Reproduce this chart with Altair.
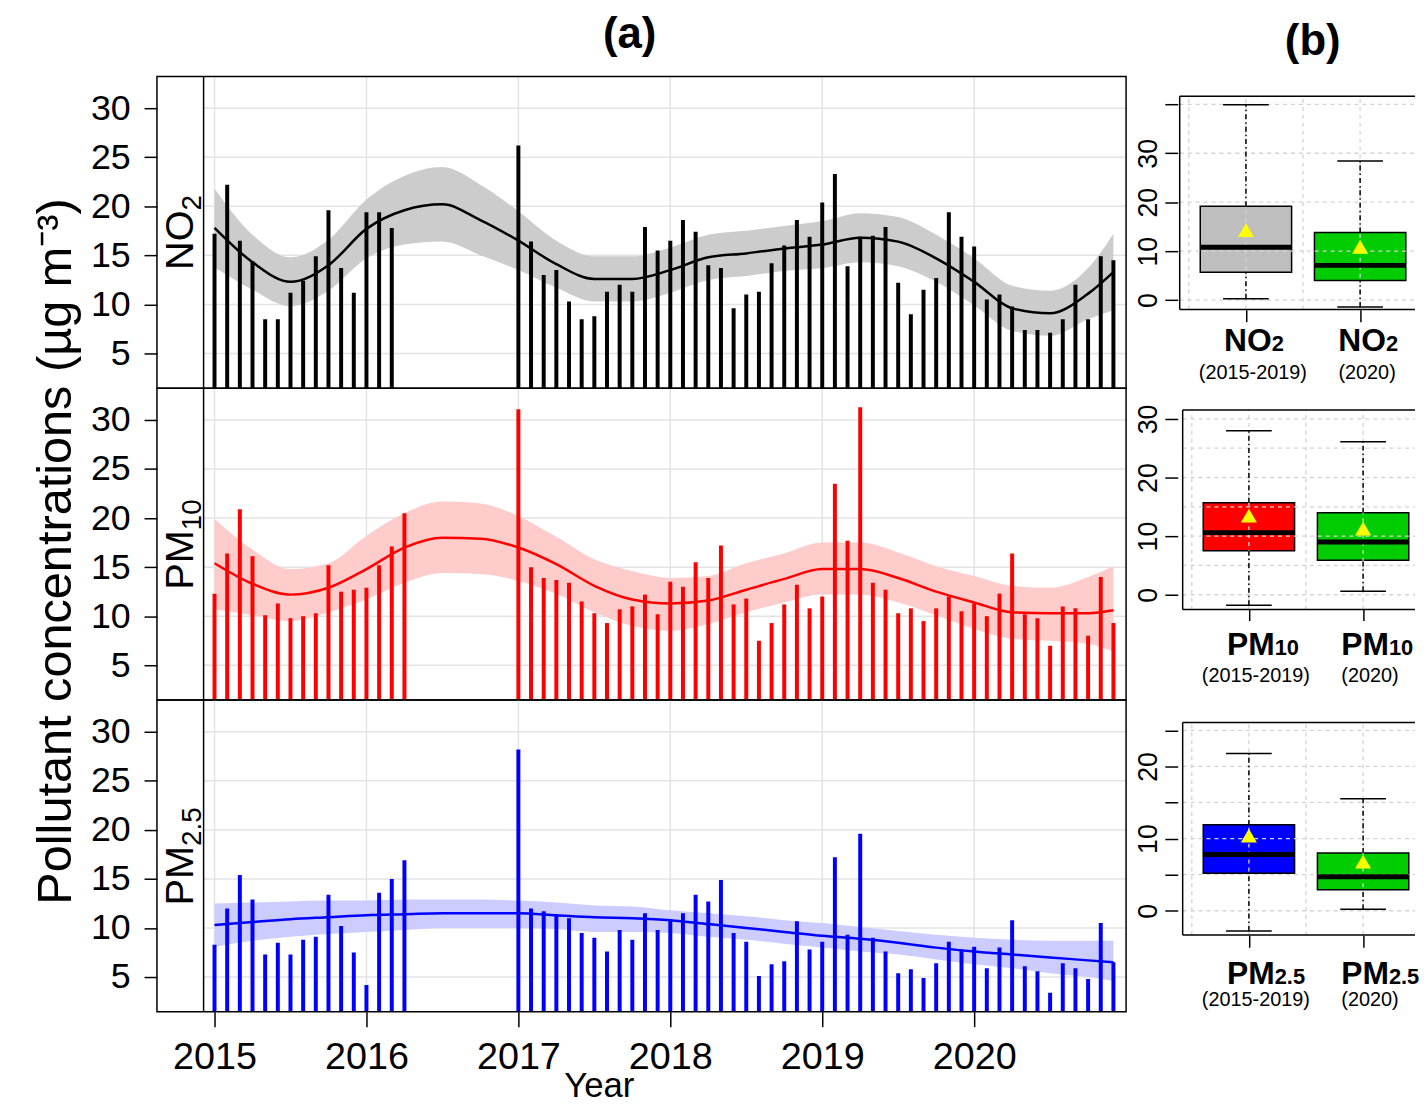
import altair as alt
import pandas as pd

FONT = "Liberation Sans"

# ---------------- panel (a): monthly means (µg m-3) ----------------
no2_2015_16 = [17.2, 22.2, 16.5, 14.4, 8.5, 8.5, 11.2, 12.4, 14.9, 19.6, 13.7, 11.2, 19.4, 19.4, 17.8]
no2_2017 = [26.2, 16.4, 13.0, 13.5, 10.3, 8.5, 8.8, 11.3, 12.0, 11.3, 17.9, 15.5]
no2_2018 = [16.5, 18.6, 17.4, 14.0, 13.7, 9.6, 11.0, 11.3, 14.2, 16.0, 18.6, 16.9]
no2_2019 = [20.4, 23.3, 13.9, 16.9, 17.0, 17.9, 12.2, 9.0, 11.5, 12.7, 19.4, 16.9]
no2_2020 = [15.9, 10.5, 11.0, 9.8, 7.4, 7.4, 7.1, 8.5, 12.0, 8.5, 14.9, 14.5]

pm10_2015_16 = [12.3, 16.4, 20.9, 16.1, 10.1, 11.3, 9.8, 10.0, 10.3, 15.2, 12.5, 12.7, 12.9, 15.2, 17.1, 20.5]
pm10_2017 = [31.1, 15.0, 13.9, 13.7, 13.4, 11.5, 10.3, 9.3, 10.7, 11.0, 12.2, 10.2]
pm10_2018 = [13.5, 13.0, 15.5, 13.9, 17.2, 11.2, 11.8, 7.5, 9.3, 11.2, 13.2, 10.8]
pm10_2019 = [12.0, 23.5, 17.7, 31.3, 13.4, 12.7, 10.3, 10.8, 9.5, 10.8, 12.0, 10.5]
pm10_2020 = [11.3, 10.0, 12.3, 16.4, 10.2, 9.8, 7.0, 11.0, 10.8, 8.0, 14.0, 9.3]

pm25_2015_16 = [8.3, 12.0, 15.4, 12.9, 7.3, 8.5, 7.3, 8.8, 9.1, 13.4, 10.2, 7.5, 4.2, 13.6, 15.0, 16.9]
pm25_2017 = [28.2, 12.0, 11.7, 11.3, 11.0, 9.5, 9.0, 7.6, 9.8, 8.8, 11.5, 9.8]
pm25_2018 = [10.8, 11.5, 13.4, 12.7, 14.9, 9.5, 8.6, 5.1, 6.3, 6.6, 10.7, 7.8]
pm25_2019 = [8.6, 17.2, 9.3, 19.6, 9.0, 7.6, 5.4, 5.8, 4.9, 6.4, 8.6, 7.8]
pm25_2020 = [8.1, 5.9, 8.0, 10.8, 6.1, 5.6, 3.4, 6.4, 5.9, 4.8, 10.5, 6.5]

# smooth fit with confidence band, read at months since Jan 2015
fit_months = [0, 3, 6, 9, 12, 15, 18, 21, 24, 27, 30, 33, 36, 39, 42, 45, 48, 51, 54, 57, 60, 63, 66, 69, 71]
no2_fit = [17.8, 14.3, 12.3, 14.0, 17.7, 19.6, 20.2, 18.6, 16.5, 14.1, 12.6, 12.6, 13.5, 14.8, 15.2, 15.7, 16.1, 16.8, 16.4, 14.7, 12.3, 9.6, 9.1, 11.1, 13.3]
no2_lo = [13.8, 11.5, 9.8, 11.4, 14.7, 16.1, 16.4, 15.0, 13.5, 11.7, 10.3, 10.3, 11.2, 12.5, 12.9, 13.4, 13.7, 14.3, 13.9, 12.3, 9.9, 7.3, 6.8, 8.5, 9.4]
no2_hi = [21.8, 17.1, 14.8, 16.6, 20.7, 23.1, 24.0, 22.2, 19.5, 16.5, 14.9, 14.9, 15.8, 17.1, 17.5, 18.0, 18.5, 19.3, 18.9, 17.1, 14.7, 11.9, 11.4, 13.7, 17.2]

pm10_fit = [15.4, 13.3, 12.2, 12.9, 14.8, 17.0, 18.0, 17.9, 17.0, 15.3, 13.1, 11.7, 11.3, 11.6, 12.7, 13.8, 14.8, 14.8, 13.9, 12.5, 11.4, 10.4, 10.3, 10.3, 10.6]
pm10_lo = [10.7, 10.1, 9.5, 10.4, 11.7, 13.4, 14.4, 14.3, 13.6, 12.3, 10.4, 9.0, 8.5, 9.2, 10.4, 11.4, 12.2, 12.2, 11.4, 10.1, 8.7, 7.7, 7.5, 7.2, 6.4]
pm10_hi = [19.9, 16.8, 14.8, 15.4, 18.2, 20.5, 21.7, 21.5, 20.2, 18.1, 15.8, 14.6, 13.9, 14.1, 15.4, 16.4, 17.5, 17.5, 16.5, 15.1, 14.1, 13.1, 12.9, 14.0, 15.1]

pm25_fit = [10.3, 10.6, 10.9, 11.1, 11.3, 11.4, 11.5, 11.5, 11.5, 11.3, 11.1, 11.0, 10.8, 10.4, 10.0, 9.6, 9.2, 8.9, 8.5, 8.0, 7.6, 7.3, 7.0, 6.7, 6.5]
pm25_lo = [8.1, 8.7, 9.1, 9.4, 9.6, 9.8, 10.0, 10.0, 10.0, 9.9, 9.6, 9.6, 9.5, 9.1, 8.8, 8.4, 8.0, 7.6, 7.3, 6.8, 6.3, 5.9, 5.4, 5.0, 4.6]
pm25_hi = [12.5, 12.6, 12.7, 12.8, 12.8, 12.9, 12.9, 12.9, 12.8, 12.6, 12.3, 12.2, 11.8, 11.5, 11.2, 10.8, 10.5, 10.1, 9.7, 9.3, 9.0, 8.8, 8.7, 8.7, 8.7]

year_ticks = [2015, 2016, 2017, 2018, 2019, 2020]
conc_ticks = [5, 10, 15, 20, 25, 30]

# ---------------- panel (b): box-plot statistics ----------------
box_pos = [1, 2]
box_period = ["(2015-2019)", "(2020)"]
no2_box_lo = [0.3, -1.4]
no2_box_q1 = [5.7, 4.0]
no2_box_med = [10.8, 7.1]
no2_box_q3 = [19.2, 13.8]
no2_box_hi = [39.9, 28.4]
no2_box_mean = [14.3, 10.9]
pm10_box_lo = [-1.8, 0.6]
pm10_box_q1 = [7.5, 5.9]
pm10_box_med = [10.6, 9.0]
pm10_box_q3 = [15.7, 14.0]
pm10_box_hi = [28.0, 26.1]
pm10_box_mean = [13.5, 11.3]
pm25_box_lo = [-2.8, 0.2]
pm25_box_q1 = [5.2, 2.9]
pm25_box_med = [7.8, 4.7]
pm25_box_q3 = [11.9, 8.0]
pm25_box_hi = [21.8, 15.5]
pm25_box_mean = [10.4, 6.8]

# ---------------- layout constants ----------------
A_W, A_H = 976, 314
B_W = 237
X_MIN, X_MAX = 2014.621, 2021.0
STRIP_X = 2014.928
STRIP_TXT_X = 2014.858
Y_MIN, Y_MAX = 1.46, 33.24
XS = alt.Scale(domain=[X_MIN, X_MAX], nice=False, zero=False)
YS = alt.Scale(domain=[Y_MIN, Y_MAX], nice=False, zero=False)
ONE = pd.DataFrame({"k": [0]})
GRID = "#e3e3e3"


def month_x(start_year, n):
    return [start_year + i / 12.0 for i in range(n)]


def bars_df(early, y17, y18, y19, y20):
    vals = early + y17 + y18 + y19 + y20
    xs = month_x(2015, len(early)) + month_x(2017, 48)
    return pd.DataFrame({"x": xs, "value": vals})


def fit_df(fit, lo, hi):
    return pd.DataFrame({"x": [2015 + m / 12.0 for m in fit_months], "fit": fit, "lo": lo, "hi": hi})


def y_axis_a(title):
    kw = dict(values=conc_ticks, tickSize=13, labelPadding=14, labelFontSize=36, domain=False,
              grid=False, tickWidth=1.5, tickColor="black", labelColor="black", labelFont=FONT,
              labelOverlap=False, labelFlush=False)
    if title:
        return alt.Axis(title=title, titleX=-87, titleY=164, titleAngle=270, titleBaseline="alphabetic",
                        titleAlign="center", titleFontSize=49, titleFontWeight="normal", titleFont=FONT,
                        titleColor="black", **kw)
    return alt.Axis(title="", **kw)


def x_axis_a(show):
    if not show:
        return None
    return alt.Axis(values=year_ticks, format="d", tickSize=15, labelPadding=12, labelFontSize=38,
                    domain=False, grid=False, tickWidth=1.5, tickColor="black", labelColor="black",
                    labelFont=FONT, labelFlush=False, labelOverlap=False, title="Year", titleX=445,
                    titleY=85, titleBaseline="alphabetic", titleFontSize=35, titleFontWeight="normal",
                    titleFont=FONT, titleColor="black")


def a_panel(bars, fit, color, band, main, sub, shift, show_x, ytitle, head=None):
    xa = x_axis_a(show_x)
    ya = y_axis_a(ytitle)
    vgrid = alt.Chart(pd.DataFrame({"g": year_ticks})).mark_rule(color=GRID, strokeWidth=1.5).encode(
        x=alt.X("g:Q", scale=XS, axis=xa))
    hgrid = alt.Chart(pd.DataFrame({"g": conc_ticks})).mark_rule(color=GRID, strokeWidth=1.5).encode(
        x=alt.XDatum(STRIP_X, scale=XS, axis=xa), x2=alt.X2Datum(X_MAX),
        y=alt.Y("g:Q", scale=YS, axis=ya))
    area = alt.Chart(fit).mark_area(color=band, interpolate="monotone").encode(
        x=alt.X("x:Q", scale=XS, axis=xa), y=alt.Y("lo:Q", scale=YS, axis=ya), y2="hi:Q")
    rules = alt.Chart(bars).mark_rule(color=color, strokeWidth=4, clip=True).encode(
        x=alt.X("x:Q", scale=XS, axis=xa),
        y=alt.Y("value:Q", scale=YS, axis=ya), y2=alt.Y2Datum(0))
    line = alt.Chart(fit).mark_line(color=color, strokeWidth=2.5, interpolate="monotone").encode(
        x=alt.X("x:Q", scale=XS, axis=xa), y=alt.Y("fit:Q", scale=YS, axis=ya))
    strip = alt.Chart(ONE).mark_rule(color="black", strokeWidth=1.5).encode(
        x=alt.XDatum(STRIP_X, scale=XS, axis=xa))
    pos = dict(x=alt.XDatum(STRIP_TXT_X, scale=XS, axis=xa),
               y=alt.YDatum((Y_MIN + Y_MAX) / 2, scale=YS, axis=ya))
    t_main = alt.Chart(ONE).mark_text(text=main, angle=270, fontSize=40, font=FONT, color="black",
                                      align="right", baseline="alphabetic", dx=shift).encode(**pos)
    t_sub = alt.Chart(ONE).mark_text(text=sub, angle=270, fontSize=28, font=FONT, color="black",
                                     align="left", baseline="alphabetic", dx=shift, dy=8).encode(**pos)
    frame = alt.Chart(ONE).mark_rect(fillOpacity=0, stroke="black", strokeWidth=1.5).encode(
        x=alt.XDatum(X_MIN, scale=XS, axis=xa), x2=alt.X2Datum(X_MAX),
        y=alt.YDatum(Y_MIN, scale=YS, axis=ya), y2=alt.Y2Datum(Y_MAX))
    layers = [vgrid, hgrid, area, rules, line, strip, t_main, t_sub, frame]
    if head is not None:
        layers.append(alt.Chart(ONE).mark_text(text=head, fontSize=44, fontWeight="bold", font=FONT,
                                               color="black", align="center", baseline="alphabetic").encode(
            x=alt.value(476), y=alt.value(-29)))
    return alt.layer(*layers).properties(width=A_W, height=A_H)


def box_df(lo, q1, med, q3, hi, mean, fills, main, sub):
    return pd.DataFrame({"pos": box_pos, "lo": lo, "q1": q1, "med": med, "q3": q3, "hi": hi,
                         "mean": mean, "fill": fills, "period": box_period,
                         "main": [main, main], "sub": [sub, sub]})


def b_panel(df, xdom, frame_x, ydom, frame_lo, frame_hi, hgrid_vals, tick_vals, label_vals,
            x_off, dy_main, dy_per, head=None):
    XB = alt.Scale(domain=xdom, nice=False, zero=False)
    YB = alt.Scale(domain=ydom, nice=False, zero=False)
    lab = "indexof([" + ",".join(str(v) for v in label_vals) + "], datum.value) >= 0 ? datum.label : ''"
    yax = alt.Axis(values=tick_vals, labelExpr=lab, tickSize=13, offset=2, domain=False, grid=False,
                   labelAngle=270, labelAlign="center", labelBaseline="alphabetic", labelPadding=8,
                   labelFontSize=27, labelFont=FONT, labelColor="black", tickColor="black",
                   tickWidth=1.5, labelOverlap=False, labelFlush=False, title="")
    xax = alt.Axis(values=box_pos, labels=False, tickSize=12, offset=x_off, domain=False, grid=False,
                   tickColor="black", tickWidth=1.5, title="")
    base = alt.Chart(df).transform_calculate(
        left="datum.pos - 0.4", right="datum.pos + 0.4",
        capl="datum.pos - 0.2", capr="datum.pos + 0.2")
    dash = [5, 3, 1.5, 3]
    X = lambda f: alt.X(f, scale=XB, axis=xax)
    Y = lambda f: alt.Y(f, scale=YB, axis=yax)
    XD = lambda v: alt.XDatum(v, scale=XB, axis=xax)
    YD = lambda v: alt.YDatum(v, scale=YB, axis=yax)
    boxes = base.mark_rect(stroke="black", strokeWidth=1.5).encode(
        x=X("left:Q"), x2="right:Q", y=Y("q1:Q"), y2="q3:Q", color=alt.Color("fill:N", scale=None))
    hgrid = alt.Chart(pd.DataFrame({"g": hgrid_vals})).mark_rule(
        color="#d3d3d3", strokeWidth=1.3, strokeDash=[4, 4]).encode(
        x=XD(frame_x), x2=alt.X2Datum(xdom[1]), y=Y("g:Q"))
    vgrid = alt.Chart(pd.DataFrame({"g": [0.5, 1, 1.5, 2]})).mark_rule(
        color="#d3d3d3", strokeWidth=1.3, strokeDash=[4, 4]).encode(
        x=X("g:Q"), y=YD(frame_lo), y2=alt.Y2Datum(frame_hi))
    med = base.mark_rule(color="black", strokeWidth=5).encode(x=X("left:Q"), x2="right:Q", y=Y("med:Q"))
    wup = base.mark_rule(color="black", strokeWidth=1.5, strokeDash=dash).encode(
        x=X("pos:Q"), y=Y("q3:Q"), y2="hi:Q")
    wlo = base.mark_rule(color="black", strokeWidth=1.5, strokeDash=dash).encode(
        x=X("pos:Q"), y=Y("lo:Q"), y2="q1:Q")
    cap_hi = base.mark_rule(color="black", strokeWidth=1.5).encode(x=X("capl:Q"), x2="capr:Q", y=Y("hi:Q"))
    cap_lo = base.mark_rule(color="black", strokeWidth=1.5).encode(x=X("capl:Q"), x2="capr:Q", y=Y("lo:Q"))
    mean = base.mark_point(shape="triangle-up", filled=True, color="#ffff00", size=260, opacity=1).encode(
        x=X("pos:Q"), y=Y("mean:Q"))
    f_left = alt.Chart(ONE).mark_rule(color="black", strokeWidth=1.5).encode(
        x=XD(frame_x), y=YD(frame_lo), y2=alt.Y2Datum(frame_hi))
    f_top = alt.Chart(ONE).mark_rule(color="black", strokeWidth=1.5).encode(
        x=XD(frame_x), x2=alt.X2Datum(xdom[1]), y=YD(frame_hi))
    f_bot = alt.Chart(ONE).mark_rule(color="black", strokeWidth=1.5).encode(
        x=XD(frame_x), x2=alt.X2Datum(xdom[1]), y=YD(frame_lo))
    t_main = base.mark_text(align="right", baseline="alphabetic", dx=26, dy=dy_main, fontSize=32,
                            fontWeight="bold", font=FONT, color="black").encode(
        x=X("pos:Q"), y=YD(frame_lo), text="main:N")
    t_sub = base.mark_text(align="left", baseline="alphabetic", dx=26, dy=dy_main, fontSize=22,
                           fontWeight="bold", font=FONT, color="black").encode(
        x=X("pos:Q"), y=YD(frame_lo), text="sub:N")
    t_per = base.mark_text(align="center", baseline="alphabetic", dx=7, dy=dy_per, fontSize=20,
                           font=FONT, color="black").encode(
        x=X("pos:Q"), y=YD(frame_lo), text="period:N")
    layers = [boxes, hgrid, vgrid, med, wup, wlo, cap_hi, cap_lo, mean, f_left, f_top, f_bot,
              t_main, t_sub, t_per]
    if head is not None:
        layers.append(alt.Chart(ONE).mark_text(text=head, fontSize=44, fontWeight="bold", font=FONT,
                                               color="black", align="center", baseline="alphabetic").encode(
            x=alt.value(134), y=alt.value(-22)))
    return alt.layer(*layers).properties(width=B_W, height=A_H)


a1 = a_panel(bars_df(no2_2015_16, no2_2017, no2_2018, no2_2019, no2_2020),
             fit_df(no2_fit, no2_lo, no2_hi), "#000000", "#cccccc", "NO", "2", 22, False, None, "(a)")
a2 = a_panel(bars_df(pm10_2015_16, pm10_2017, pm10_2018, pm10_2019, pm10_2020),
             fit_df(pm10_fit, pm10_lo, pm10_hi), "#ff0000", "#ffcccc", "PM", "10", 14, False,
             "Pollutant concentrations (µg m⁻³)")
a3 = a_panel(bars_df(pm25_2015_16, pm25_2017, pm25_2018, pm25_2019, pm25_2020),
             fit_df(pm25_fit, pm25_lo, pm25_hi), "#0000ff", "#ccccff", "PM", "2.5", 10, True, None)

b1 = b_panel(box_df(no2_box_lo, no2_box_q1, no2_box_med, no2_box_q3, no2_box_hi, no2_box_mean,
                    ["#bebebe", "#00cd00"], "NO", "2"),
             [0.42, 0.42 + B_W / 115.0], 0.42, [-17.99, 45.70], -1.91, 41.64,
             [0, 10, 20, 30, 40], [0, 10, 20, 30, 40], [0, 10, 20, 30], -79, 42, 70, "(b)")
b2 = b_panel(box_df(pm10_box_lo, pm10_box_q1, pm10_box_med, pm10_box_q3, pm10_box_hi, pm10_box_mean,
                    ["#ff0000", "#00cd00"], "PM", "10"),
             [0.394, 0.394 + B_W / 115.0], 0.42, [-17.96, 35.24], -2.53, 31.53,
             [0, 5, 10, 15, 20, 25, 30], [0, 10, 20, 30], [0, 10, 20, 30], -92, 46, 73)
b3 = b_panel(box_df(pm25_box_lo, pm25_box_q1, pm25_box_med, pm25_box_q3, pm25_box_hi, pm25_box_mean,
                    ["#0000ff", "#00cd00"], "PM", "2.5"),
             [0.394, 0.394 + B_W / 115.0], 0.42, [-14.0, 29.20], -3.36, 26.09,
             [0, 5, 10, 15, 20, 25], [0, 5, 10, 15, 20, 25], [0, 10, 20], -77, 49, 72)

chart = alt.concat(a1, b1, a2, b2, a3, b3, columns=2,
                   spacing=alt.RowColnumber(row=0, column=54), bounds="flush").resolve_scale(
    x="independent", y="independent").properties(
    padding={"left": 23, "top": 1, "right": 0, "bottom": 0}).configure(font=FONT).configure_view(
    strokeWidth=0, stroke="transparent")

chart.save("out.html", embed_options={"renderer": "svg", "actions": False})
